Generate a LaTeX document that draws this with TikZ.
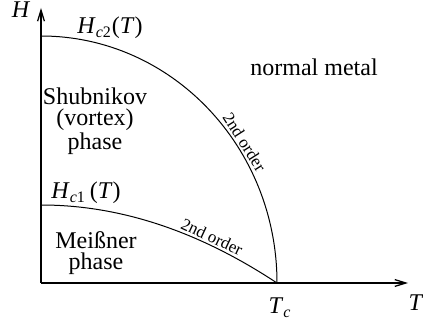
\documentclass[tikz,border=0pt]{standalone}
\usepackage{fontspec}
\setmainfont{Liberation Serif}
\usetikzlibrary{arrows.meta}

\begin{document}
\begin{tikzpicture}[
    x=0.5pt, y=0.5pt,
    font=\fontsize{12}{10.5}\selectfont,
    axis/.style={line width=0.65pt, -{Straight Barb[length=5.5pt, width=3.4pt]}},
    curve/.style={line width=0.5pt},
    region/.style={align=center, inner sep=0pt},
    edgelabel/.style={sloped, above, inner sep=0.8pt, font=\fontsize{8.5}{9}\selectfont}
  ]
  \useasboundingbox (-41,-43) rectangle (382,283);

  \coordinate (O) at (0,0);
  \coordinate (Hend) at (0,275);
  \coordinate (Tend) at (367,0);
  \coordinate (Tc) at (236,0);
  \coordinate (Hctwo) at (0,247);
  \coordinate (Hcone) at (0,78);

  \draw[axis] (O) -- (Hend);
  \draw[axis] (O) -- (Tend);

  % phase boundaries
  \draw[curve] (Hctwo) .. controls (130.3,247) and (236,136.4) .. (Tc)
    node[edgelabel, pos=0.63] (ordtwo) {2nd order};
  \draw[curve] (Hcone) .. controls (78.7,78) and (157.3,52) .. (Tc)
    node[edgelabel, pos=0.71] (ordone) {2nd order};

  \node (Hlab) at (-20,273) {\textit{H}};
  \node (Tlab) at (375,-20) {\textit{T}};
  \node (Tclab) at (239,-25) {\textit{T}\textsubscript{\textit{c}}};
  \node (Hctwolab) at (69,255) {\textit{H}\textsubscript{\textit{c}2}(\textit{T})};
  \node (Hconelab) at (45,90) {\textit{H}\textsubscript{\textit{c}1}\,(\textit{T})};

  \node[region] (normal) at (273,216) {normal metal};
  \node[region] (shub) at (54,162) {Shubnikov\\(vortex)\\phase};
  \node[region] (meiss) at (55,30) {Meißner\\phase};
\end{tikzpicture}
\end{document}
